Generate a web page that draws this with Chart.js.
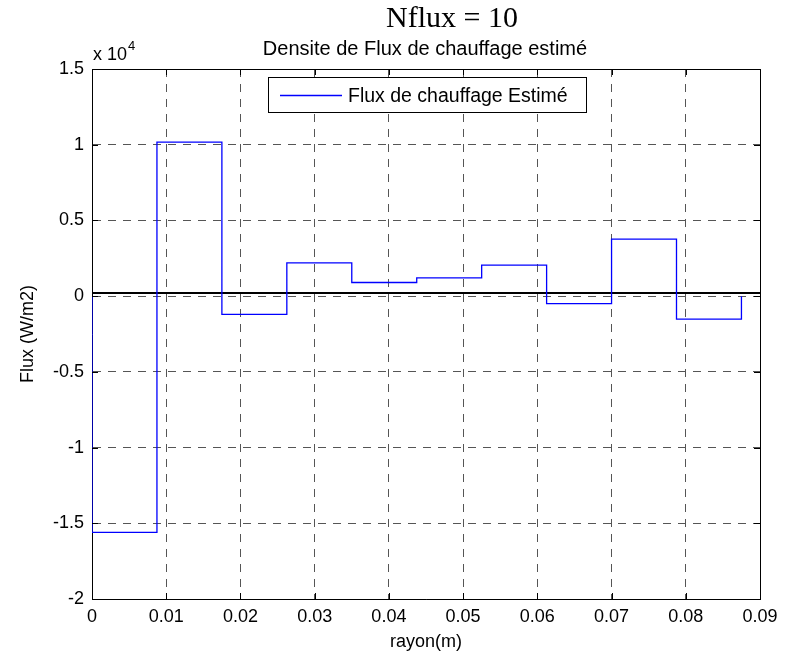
<!DOCTYPE html>
<html>
<head>
<meta charset="utf-8">
<script src="https://cdn.jsdelivr.net/npm/chart.js@4.4.1/dist/chart.umd.min.js"></script>
<style>
html,body{margin:0;padding:0;background:#fff;}
#wrap{width:800px;height:657px;}
</style>
</head>
<body>
<div id="wrap"><canvas id="c" width="800" height="657"></canvas></div>
<script>
// ---- data ----
const rayonEdges = [0, 0.00875, 0.0175, 0.02625, 0.035, 0.04375, 0.0525, 0.06125, 0.07, 0.07875, 0.0875];
const fluxValues = [-15600, 10170, -1200, 2200, 900, 1200, 2050, -500, 3770, -1520];
const refLevel = 200;
const xTickValues = [0, 0.01, 0.02, 0.03, 0.04, 0.05, 0.06, 0.07, 0.08, 0.09];
const yTickValues = [-20000, -15000, -10000, -5000, 0, 5000, 10000, 15000];
const seriesLabel = 'Flux de chauffage Estimé';
const mainTitle = 'Nflux = 10';
const subTitle = 'Densite de Flux de chauffage estimé';
const xTitle = 'rayon(m)';
const yTitle = 'Flux (W/m2)';

// stepped path points built from the arrays
const stepPoints = [{x: rayonEdges[0], y: 0}];
for (let i = 0; i < fluxValues.length; i++) {
  stepPoints.push({x: rayonEdges[i], y: fluxValues[i]});
}
stepPoints.push({x: rayonEdges[rayonEdges.length - 1], y: fluxValues[fluxValues.length - 1]});
stepPoints.push({x: rayonEdges[rayonEdges.length - 1], y: 0});

const refPoints = [{x: xTickValues[0], y: refLevel}, {x: xTickValues[xTickValues.length - 1], y: refLevel}];

const SANS = '"Liberation Sans", Arial, Helvetica, sans-serif';
const SERIF = '"Liberation Serif", "Times New Roman", serif';

const decorPlugin = {
  id: 'decor',
  afterDraw(chart) {
    const ctx = chart.ctx;
    const a = chart.chartArea;
    const xs = chart.scales.x, ys = chart.scales.y;
    ctx.save();
    // box top/right
    ctx.strokeStyle = '#000';
    ctx.lineWidth = 1;
    ctx.setLineDash([]);
    ctx.beginPath();
    ctx.moveTo(a.left, Math.round(a.top) + 0.5);
    ctx.lineTo(a.right, Math.round(a.top) + 0.5);
    ctx.moveTo(Math.round(a.right) + 0.5, a.top);
    ctx.lineTo(Math.round(a.right) + 0.5, a.bottom);
    ctx.stroke();
    // inner tick marks
    const tl = 6;
    ctx.beginPath();
    xTickValues.forEach(v => {
      const px = Math.round(xs.getPixelForValue(v)) + 0.5;
      ctx.moveTo(px, a.top); ctx.lineTo(px, a.top + tl);
      ctx.moveTo(px, a.bottom); ctx.lineTo(px, a.bottom - tl);
    });
    yTickValues.forEach(v => {
      const py = Math.round(ys.getPixelForValue(v)) + 0.5;
      ctx.moveTo(a.left, py); ctx.lineTo(a.left + tl, py);
      ctx.moveTo(a.right, py); ctx.lineTo(a.right - tl, py);
    });
    ctx.stroke();
    // titles
    ctx.fillStyle = '#000';
    ctx.textAlign = 'center';
    ctx.textBaseline = 'alphabetic';
    ctx.font = '30px ' + SERIF;
    ctx.fillText(mainTitle, 452, 27);
    ctx.font = '20px ' + SANS;
    ctx.fillText(subTitle, 425, 55);
    // exponent label
    ctx.textAlign = 'left';
    ctx.font = '18px ' + SANS;
    ctx.fillText('x 10', 93, 60);
    ctx.font = '13px ' + SANS;
    ctx.fillText('4', 128, 50);
    // legend
    const lx = 268, ly = 77, lw = 318, lh = 35;
    ctx.fillStyle = '#fff';
    ctx.fillRect(lx, ly, lw, lh);
    ctx.strokeStyle = '#000';
    ctx.strokeRect(lx + 0.5, ly + 0.5, lw, lh);
    const ds = chart.data.datasets[0];
    ctx.strokeStyle = ds.borderColor;
    ctx.lineWidth = ds.borderWidth;
    ctx.beginPath();
    ctx.moveTo(280, 95.5); ctx.lineTo(342, 95.5);
    ctx.stroke();
    ctx.fillStyle = '#000';
    ctx.font = '19.5px ' + SANS;
    ctx.fillText(ds.label, 348, 102);
    ctx.restore();
  }
};

new Chart(document.getElementById('c'), {
  type: 'line',
  data: {
    datasets: [
      {
        label: seriesLabel,
        data: stepPoints,
        borderColor: '#0000ff',
        borderWidth: 1.3,
        pointRadius: 0,
        stepped: 'before',
        fill: false
      },
      {
        label: 'ref',
        data: refPoints,
        borderColor: '#000',
        borderWidth: 2,
        pointRadius: 0,
        fill: false
      }
    ]
  },
  options: {
    responsive: false,
    animation: false,
    devicePixelRatio: 1,
    layout: {padding: {top: 69, right: 40, left: 0, bottom: 0}},
    plugins: {
      legend: {display: false},
      title: {display: false},
      tooltip: {enabled: false}
    },
    scales: {
      x: {
        type: 'linear',
        min: 0, max: 0.09,
        afterFit: s => { s.height = 58; },
        afterBuildTicks: s => { s.ticks = xTickValues.map(v => ({value: v})); },
        ticks: {
          color: '#000',
          padding: 7,
          maxRotation: 0,
          autoSkip: false,
          font: {family: SANS, size: 18},
          callback: v => (v === 0 ? '0' : Number(v).toFixed(2))
        },
        grid: {color: '#555', lineWidth: 1, drawTicks: false},
        border: {display: true, color: '#000', width: 1, dash: [8, 7]},
        title: {display: true, text: xTitle, color: '#000', font: {family: SANS, size: 18}, padding: 4}
      },
      y: {
        type: 'linear',
        min: -20000, max: 15000,
        afterFit: s => { s.width = 92; },
        afterBuildTicks: s => { s.ticks = yTickValues.map(v => ({value: v})); },
        ticks: {
          color: '#000',
          padding: 8,
          autoSkip: false,
          font: {family: SANS, size: 18},
          callback: v => String(v / 10000)
        },
        grid: {color: '#555', lineWidth: 1, drawTicks: false},
        border: {display: true, color: '#000', width: 1, dash: [8, 7]},
        title: {display: true, text: yTitle, color: '#000', font: {family: SANS, size: 18}, padding: 17}
      }
    }
  },
  plugins: [decorPlugin]
});
</script>
</body>
</html>
